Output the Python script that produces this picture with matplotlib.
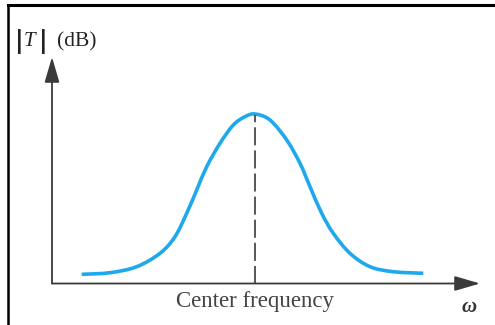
import matplotlib
matplotlib.use("Agg")
import matplotlib.pyplot as plt
from matplotlib.lines import Line2D
from matplotlib.path import Path
from matplotlib.patches import PathPatch

# bell-shaped response (omega, |T|) in arbitrary units
omega = [29.7, 58, 84.7, 108, 123, 134.7, 144.7, 154.7, 168, 181.3, 193,
         203, 218, 234.7, 248, 258, 269.7, 281.3, 298, 318, 341.3, 371.3]
mag = [9.2, 10.8, 16.8, 30.2, 46.8, 70.2, 93.5, 116.8, 140.2, 158.5, 166.8,
       169.5, 163.5, 143.5, 120.2, 96.8, 70.2, 50.2, 30.2, 16.8, 11.8, 10.2]
center = 203
peak = 169.5

curve_color = "#1ea9ec"
axis_color = "#3a3a3a"


def smooth_path(xs, ys):
    # catmull-rom through the read points, drawn as cubic bezier segments
    pts = list(zip(xs, ys))
    verts = [pts[0]]
    codes = [Path.MOVETO]
    n = len(pts)
    for i in range(n - 1):
        p0 = pts[max(i - 1, 0)]
        p1 = pts[i]
        p2 = pts[i + 1]
        p3 = pts[min(i + 2, n - 1)]
        c1 = (p1[0] + (p2[0] - p0[0]) / 6, p1[1] + (p2[1] - p0[1]) / 6)
        c2 = (p2[0] - (p3[0] - p1[0]) / 6, p2[1] - (p3[1] - p1[1]) / 6)
        verts += [c1, c2, p2]
        codes += [Path.CURVE4] * 3
    return Path(verts, codes)


fig = plt.figure(figsize=(4.95, 3.25), dpi=100)
ax = fig.add_axes([0, 0, 1, 1])
ax.set_xlim(-52, 443)
ax.set_ylim(-41.5, 283.5)
ax.axis("off")

# outer frame (top and left edges visible)
fig.add_artist(Line2D([8 / 495, 1], [1 - 5 / 325, 1 - 5 / 325],
                      transform=fig.transFigure, color="black", lw=2.2))
fig.add_artist(Line2D([8 / 495, 8 / 495], [0, 1 - 5 / 325],
                      transform=fig.transFigure, color="black", lw=1.8))

# axes with arrows
arrow = dict(arrowstyle="-|>,head_length=1.3,head_width=0.38", color=axis_color,
             lw=1.3, shrinkA=0, shrinkB=0, mutation_scale=12)
ax.annotate("", xy=(0, 226.5), xytext=(0, 0), arrowprops=arrow)
ax.annotate("", xy=(428, 0), xytext=(0, 0), arrowprops=arrow)

ax.add_patch(PathPatch(smooth_path(omega, mag), fill=False,
                       edgecolor=curve_color, lw=2.6, capstyle="butt"))
ax.plot([center, center], [0, peak - 1], color="#4a4a4a", lw=1.3,
        dashes=(10, 2.8))

serif = ["Liberation Serif", "DejaVu Serif"]
ax.text(-32.5, 242, "|", fontsize=17, fontweight="bold", family="DejaVu Sans",
        ha="center", va="center", color="#222222")
ax.text(-22.5, 242, "T", fontsize=15, style="italic", family=serif,
        ha="center", va="center", color="#222222")
ax.text(-8.5, 242, "|", fontsize=17, fontweight="bold", family="DejaVu Sans",
        ha="center", va="center", color="#222222")
ax.text(5, 242, "(dB)", fontsize=15.5, family=serif, ha="left", va="center",
        color="#222222")
ax.text(center, -18.5, "Center frequency", fontsize=16.5, family=serif,
        ha="center", va="center", color="#444444")
ax.text(417, -24, "ω", fontsize=15, family=serif, style="italic",
        fontweight="bold", ha="center", va="center", color="#333333")

fig.savefig("out.png", dpi=100)
